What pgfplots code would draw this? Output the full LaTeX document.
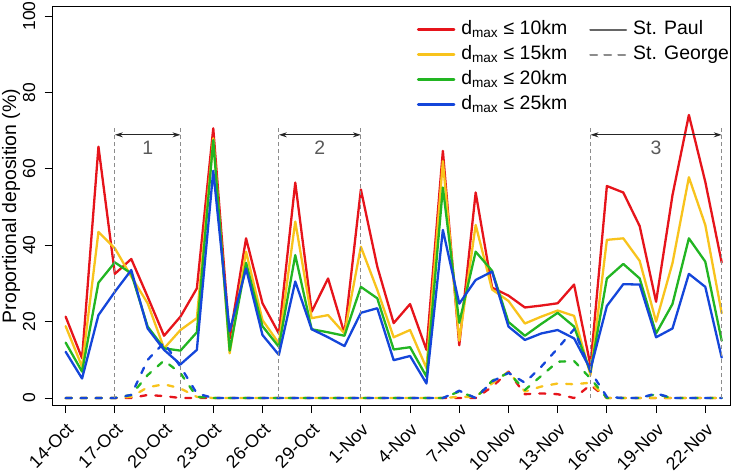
\documentclass[border=0pt]{standalone}
\usepackage{fontspec}
\setmainfont{Liberation Sans}
\usepackage{pgfplots}
\usepackage{pgfplotstable}
\pgfplotsset{compat=1.18}
\usetikzlibrary{arrows.meta}

\definecolor{cR}{HTML}{E6141B}
\definecolor{cY}{HTML}{F8C31C}
\definecolor{cG}{HTML}{22B522}
\definecolor{cB}{HTML}{1446DA}

% day 0 = 14-Oct; St. Paul (R,Y,G,B) and St. George (Rd,Yd,Gd,Bd)
\pgfplotstableread{
day R Y G B Rd Yd Gd Bd
0 21.3 18.8 14.5 12.1 0 0 0 0
1 10.4 8.2 6.9 5.1 0 0 0 0
2 65.8 43.5 30.2 21.7 0 0 0 0
3 32.5 39.2 35.5 27.8 0 0 0 0
4 36.4 31.8 32.6 33.5 0 0.3 0.8 0.8
5 26.5 24.8 18.7 18.2 0.8 2.8 6.0 10.0
6 16.3 13.0 13.0 12.6 0.5 3.6 9.8 14.5
7 21.3 17.8 12.4 8.8 0 2.5 6.5 8.2
8 28.7 20.9 17.2 12.6 0 0.3 0.3 1.2
9 70.6 68.0 67.5 59.5 0 0 0 0
10 15.5 11.7 12.4 17.5 0 0 0 0
11 41.8 38.3 35.4 33.9 0 0 0 0
12 24.8 20.4 18.8 16.5 0 0 0 0
13 16.9 14.3 13.4 11.3 0 0 0 0
14 56.4 46.2 37.4 30.5 0 0 0 0
15 22.6 20.9 18.0 18.0 0 0 0 0
16 31.3 21.7 17.2 15.9 0 0 0 0
17 16.9 16.9 16.3 13.6 0 0 0 0
18 54.6 39.6 29.1 22.3 0 0 0 0
19 34.4 28.3 26.1 23.5 0 0 0 0
20 19.6 15.9 12.7 9.9 0 0 0 0
21 24.6 17.8 13.3 11.0 0 0 0 0
22 12.6 7.8 5.6 3.8 0 0 0 0
23 64.7 62.0 55.1 44.0 0 0 0 0
24 13.8 15.0 19.7 24.7 0 0.3 1.7 1.9
25 53.8 45.3 38.3 30.9 0 0.3 0 0
26 28.9 28.4 33.3 33.1 2.9 3.8 4.5 4.3
27 26.8 25.4 19.9 18.7 6.9 6.9 6.6 6.6
28 23.7 19.5 16.3 15.2 1.0 1.7 2.1 4.0
29 24.2 21.3 19.4 16.9 1.2 3.0 5.8 8.2
30 24.8 22.9 22.3 17.8 1.0 3.8 9.5 13.0
31 29.7 21.5 18.7 15.6 0 3.6 9.7 18.0
32 8.5 6.0 6.8 7.5 3.4 4.0 5.1 7.0
33 55.5 41.4 31.3 24.1 0 0 0 0.3
34 53.8 41.8 35.1 29.8 0 0 0 0
35 45.0 35.9 31.3 29.7 0 0 0 0
36 25.2 20.0 16.9 15.9 0 0 1.0 1.2
37 53.1 35.3 24.6 18.2 0 0 0 0
38 74.1 57.8 41.8 32.5 0 0 0 0
39 56.6 45.3 35.7 29.1 0 0 0 0
40 35.5 22.2 15.0 10.6 0 0 0 0
}\dep

\begin{document}
\begin{tikzpicture}
\path[use as bounding box] (-52.7bp,-69bp) rectangle (680.3bp,405bp);
\begin{axis}[
  scale only axis, width=678bp, height=398bp,
  xmin=-0.79, xmax=40.55, ymin=-1.83, ymax=102.36,
  axis line style={line width=1bp},
  tick pos=left, tick align=outside,
  major tick length=8bp,
  tick style={line width=1bp, black},
  xtick={0,3,...,39},
  xticklabels={14-Oct,17-Oct,20-Oct,23-Oct,26-Oct,29-Oct,1-Nov,4-Nov,7-Nov,10-Nov,13-Nov,16-Nov,19-Nov,22-Nov},
  xticklabel shift=6bp,
  x tick label style={rotate=45, anchor=north east, inner sep=2bp,
    font=\fontsize{18}{19}\selectfont},
  ytick={0,20,...,100},
  yticklabel shift=6bp,
  y tick label style={rotate=90, anchor=south,
    font=\fontsize{17.5}{18}\selectfont},
  /pgf/number format/assume math mode=true,
  ylabel={Proportional deposition (\%)},
  ylabel style={at={(axis description cs:-0.054,0.5)}, anchor=base,
    font=\fontsize{19.5}{20}\selectfont},
  every axis plot/.append style={line width=2.3bp, line cap=round, line join=round},
  legend columns=2,
  legend image code/.code={\draw[#1] (0bp,0bp) -- (36bp,0bp);},
  legend style={draw=none, fill=none, at={(axis description cs:0.537,0.975)},
    anchor=north west, inner sep=0pt, row sep=0bp,
    font=\fontsize{19.5}{20}\selectfont,
    nodes={text height=13bp, text depth=4bp, inner ysep=4bp, inner xsep=6bp},
    /tikz/every even column/.append style={column sep=16bp}},
  legend cell align=left,
]
\addplot[cR, forget plot] table[x=day, y=R] {\dep};
\addplot[cY, forget plot] table[x=day, y=Y] {\dep};
\addplot[cG, forget plot] table[x=day, y=G] {\dep};
\addplot[cB, forget plot] table[x=day, y=B] {\dep};
\addplot[cR, dash pattern=on 6bp off 9bp, forget plot] table[x=day, y=Rd] {\dep};
\addplot[cY, dash pattern=on 6bp off 9bp, forget plot] table[x=day, y=Yd] {\dep};
\addplot[cG, dash pattern=on 6bp off 9bp, forget plot] table[x=day, y=Gd] {\dep};
\addplot[cB, dash pattern=on 6bp off 9bp, forget plot] table[x=day, y=Bd] {\dep};

\addlegendimage{cR, line width=2.3bp}
\addlegendentry{d\textsubscript{max} ≤ 10km}
\addlegendimage{black!60, line width=2bp}
\addlegendentry{St. Paul}
\addlegendimage{cY, line width=2.3bp}
\addlegendentry{d\textsubscript{max} ≤ 15km}
\addlegendimage{black!45, line width=2bp, dash pattern=on 7bp off 7bp}
\addlegendentry{St. George}
\addlegendimage{cG, line width=2.3bp}
\addlegendentry{d\textsubscript{max} ≤ 20km}
\addlegendimage{empty legend}
\addlegendentry{}
\addlegendimage{cB, line width=2.3bp}
\addlegendentry{d\textsubscript{max} ≤ 25km}
\addlegendimage{empty legend}
\addlegendentry{}

% period markers
\foreach \d in {3,7,13,18,32,40}{
  \edef\tmp{\noexpand\draw[black!45, line width=1bp, dash pattern=on 4bp off 3bp]
    (axis cs:\d,0) -- (axis cs:\d,70.7);}\tmp
}
\draw[{Stealth[length=8bp,width=5bp]}-{Stealth[length=8bp,width=5bp]}, line width=1bp, black!85]
  (axis cs:3,68.9) -- (axis cs:7,68.9);
\draw[{Stealth[length=8bp,width=5bp]}-{Stealth[length=8bp,width=5bp]}, line width=1bp, black!85]
  (axis cs:13,68.9) -- (axis cs:18,68.9);
\draw[{Stealth[length=8bp,width=5bp]}-{Stealth[length=8bp,width=5bp]}, line width=1bp, black!85]
  (axis cs:32,68.9) -- (axis cs:40,68.9);
\node[text=black!65, font=\fontsize{19.5}{20}\selectfont] at (axis cs:5,65.6) {1};
\node[text=black!65, font=\fontsize{19.5}{20}\selectfont] at (axis cs:15.5,65.6) {2};
\node[text=black!65, font=\fontsize{19.5}{20}\selectfont] at (axis cs:36,65.6) {3};
\end{axis}
\end{tikzpicture}
\end{document}
